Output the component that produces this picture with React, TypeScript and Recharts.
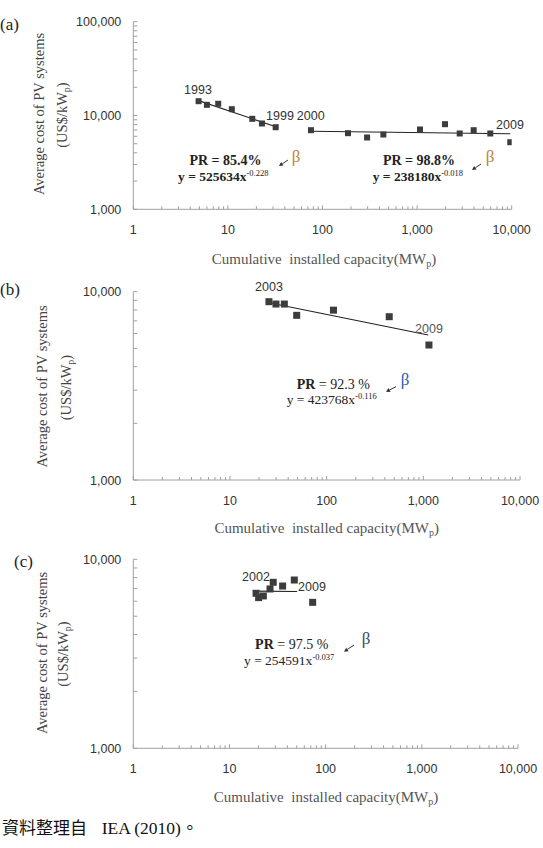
import React from 'react';
import { ScatterChart, Scatter, XAxis, YAxis } from 'recharts';

// (a) 1993-2009
const yearsA = [1993, 1994, 1995, 1996, 1997, 1998, 1999, 2000, 2001, 2002, 2003, 2004, 2005, 2006, 2007, 2008, 2009];
const capA = [4.9, 6.0, 7.9, 11.0, 18.1, 22.9, 32.0, 75.5, 186, 296, 440, 1073, 1973, 2820, 3962, 5940, 9660];
const costA = [14200, 13000, 13330, 11670, 9220, 8220, 7500, 6970, 6480, 5830, 6270, 7090, 8080, 6430, 6970, 6430, 5190];
const fitA1X = [4.9, 32];
const fitA1Y = [14400, 7600];
const fitA2X = [75.5, 9660];
const fitA2Y = [6800, 6380];

// (b) 2003-2009
const yearsB = [2003, 2004, 2005, 2006, 2007, 2008, 2009];
const capB = [25.3, 29.9, 36.5, 49, 117.6, 444, 1143];
const costB = [8850, 8600, 8600, 7490, 7980, 7365, 5210];
const fitBX = [25.3, 1123];
const fitBY = [8740, 5890];

// (c) 2002-2009
const yearsC = [2002, 2003, 2004, 2005, 2006, 2007, 2008, 2009];
const capC = [18.9, 20.1, 22.5, 26.4, 28.5, 35.7, 47.2, 73.3];
const costC = [6610, 6270, 6400, 6965, 7555, 7220, 7770, 5920];
const fitCX = [18.5, 50.5];
const fitCY = [6790, 6760];

const xTicks = [1, 2, 3, 4, 5, 6, 7, 8, 9, 10, 20, 30, 40, 50, 60, 70, 80, 90, 100, 200, 300, 400, 500, 600, 700, 800, 900, 1000, 2000, 3000, 4000, 5000, 6000, 7000, 8000, 9000, 10000];
const yTicksA = [1000, 2000, 3000, 4000, 5000, 6000, 7000, 8000, 9000, 10000, 20000, 30000, 40000, 50000, 60000, 70000, 80000, 90000, 100000];
const yTicksBC = [1000, 2000, 3000, 4000, 5000, 6000, 7000, 8000, 9000, 10000];

const AXIS = '#a0a0a0';
const SERIF = "'Liberation Serif', 'Times New Roman', serif";
const SANS = "'Liberation Sans', Arial, sans-serif";
const CJK = "'Noto Sans CJK TC', sans-serif";

const toPoints = (xs: number[], ys: number[]) => xs.map((x, i) => ({ x, y: ys[i] }));
const isDecade = (v: number) => Math.abs(Math.log10(v) - Math.round(Math.log10(v))) < 1e-9;
const fmt = (v: number) => String(v).replace(/\B(?=(\d{3})+(?!\d))/g, ',');

const XTick = (props: any) => {
  const { x, y, payload } = props;
  const major = isDecade(payload.value);
  return (
    <g>
      <line x1={x} y1={y} x2={x} y2={y - (major ? 4 : 3)} stroke={AXIS} />
      {major && (
        <text x={x} y={y + 25} textAnchor="middle" fontSize={12.5} fill="#333" fontFamily={SANS}>
          {fmt(payload.value)}
        </text>
      )}
    </g>
  );
};

const YTick = (props: any) => {
  const { x, y, payload } = props;
  const major = isDecade(payload.value);
  return (
    <g>
      <line x1={x} y1={y} x2={x + 4} y2={y} stroke={AXIS} />
      {major && (
        <text x={x - 12} y={y + 4.5} textAnchor="end" fontSize={12.5} fill="#333" fontFamily={SANS}>
          {fmt(payload.value)}
        </text>
      )}
    </g>
  );
};

const square = (size: number) => (p: any) => (
  <rect x={p.cx - size / 2} y={p.cy - size / 2} width={size} height={size} fill="#3c3c3c" />
);

interface PanelProps {
  top: number;
  marginTop: number;
  marginRight: number;
  xAxisHeight: number;
  yDomain: [number, number];
  yTicks: number[];
  points: { x: number; y: number }[];
  fits: { x: number; y: number }[][];
  size: number;
}

const Panel: React.FC<PanelProps> = ({ top, marginTop, marginRight, xAxisHeight, yDomain, yTicks, points, fits, size }) => (
  <div style={{ position: 'absolute', left: 0, top }}>
    <ScatterChart width={543} height={280} margin={{ top: marginTop, right: marginRight, bottom: 0, left: 0 }}>
      <XAxis
        type="number"
        dataKey="x"
        scale="log"
        domain={[1, 10000]}
        ticks={xTicks}
        interval={0}
        allowDataOverflow
        tickSize={0}
        tickMargin={0}
        tickLine={false}
        tick={(p: any) => <XTick {...p} />}
        height={xAxisHeight}
        stroke={AXIS}
      />
      <YAxis
        type="number"
        dataKey="y"
        scale="log"
        domain={yDomain}
        ticks={yTicks}
        interval={0}
        allowDataOverflow
        tickSize={0}
        tickMargin={0}
        tickLine={false}
        tick={(p: any) => <YTick {...p} />}
        width={133.3}
        stroke={AXIS}
      />
      {fits.map((f, i) => (
        <Scatter key={i} data={f} line={{ stroke: '#222', strokeWidth: 1.1 }} shape={() => <g />} isAnimationActive={false} />
      ))}
      <Scatter data={points} shape={square(size)} isAnimationActive={false} />
    </ScatterChart>
  </div>
);

const Arrow = ({ x1, y1, x2, y2 }: { x1: number; y1: number; x2: number; y2: number }) => {
  const a = Math.atan2(y2 - y1, x2 - x1);
  const l = 4;
  const w = 2.2;
  const bx = x2 - l * Math.cos(a);
  const by = y2 - l * Math.sin(a);
  const pts = [
    [x2, y2],
    [bx + w * Math.sin(a), by - w * Math.cos(a)],
    [bx - w * Math.sin(a), by + w * Math.cos(a)],
  ].map((q) => q.join(',')).join(' ');
  return (
    <g>
      <line x1={x1} y1={y1} x2={bx} y2={by} stroke="#333" strokeWidth={1} />
      <polygon points={pts} fill="#333" />
    </g>
  );
};

const YTitle = ({ x1, x2, cy }: { x1: number; x2: number; cy: number }) => (
  <g fontFamily={SERIF} fontSize={14.5} fill="#444">
    <text transform={`translate(${x1},${cy}) rotate(-90)`} textAnchor="middle" dy="0.35em">
      Average cost of PV systems
    </text>
    <text transform={`translate(${x2},${cy + 1}) rotate(-90)`} textAnchor="middle" dy="0.35em">
      (US$/kW<tspan fontSize={10} dy={3}>p</tspan>
      <tspan dy={-3}>)</tspan>
    </text>
  </g>
);

const XTitle = ({ cx, y }: { cx: number; y: number }) => (
  <text x={cx} y={y} textAnchor="middle" fontFamily={SERIF} fontSize={15} fill="#555" style={{ whiteSpace: 'pre' }}>
    {'Cumulative  installed capacity(MW'}
    <tspan fontSize={10} dy={3}>p</tspan>
    <tspan dy={-3}>)</tspan>
  </text>
);

const Equation = ({ x, y, coef, exp, bold }: { x: number; y: number; coef: string; exp: string; bold?: boolean }) => (
  <text x={x} y={y} fontFamily={SERIF} fontSize={13.5} fill="#222" fontWeight={bold ? 'bold' : 'normal'}>
    {`y = ${coef}x`}
    <tspan fontSize={8.5} dy={-5} fontWeight="normal">{exp}</tspan>
  </text>
);

const PR = ({ cx, y, value, bold }: { cx: number; y: number; value: string; bold?: boolean }) => (
  <text x={cx} y={y} textAnchor="middle" fontFamily={SERIF} fontSize={14} fill="#222" fontWeight={bold ? 'bold' : 'normal'}>
    <tspan fontWeight="bold">PR</tspan>
    {` = ${value}`}
  </text>
);

const Year = ({ cx, y, label, color = '#333' }: { cx: number; y: number; label: number; color?: string }) => (
  <text x={cx} y={y} textAnchor="middle" fontFamily={SANS} fontSize={12.5} fill={color}>
    {label}
  </text>
);

const Beta = ({ cx, y, color }: { cx: number; y: number; color: string }) => (
  <text x={cx} y={y} textAnchor="middle" fontFamily={SERIF} fontSize={17} fill={color}>
    β
  </text>
);

export default function App() {
  return (
    <div style={{ position: 'absolute', left: 0, top: 0, width: 543, height: 848, background: '#fff' }}>
      <Panel
        top={0}
        marginTop={21.7}
        marginRight={31.3}
        xAxisHeight={70.7}
        yDomain={[1000, 100000]}
        yTicks={yTicksA}
        points={toPoints(capA, costA)}
        fits={[toPoints(fitA1X, fitA1Y), toPoints(fitA2X, fitA2Y)]}
        size={6}
      />
      <Panel
        top={270}
        marginTop={21.7}
        marginRight={23}
        xAxisHeight={70}
        yDomain={[1000, 10000]}
        yTicks={yTicksBC}
        points={toPoints(capB, costB)}
        fits={[toPoints(fitBX, fitBY)]}
        size={7}
      />
      <Panel
        top={540}
        marginTop={19.3}
        marginRight={25}
        xAxisHeight={71.7}
        yDomain={[1000, 10000]}
        yTicks={yTicksBC}
        points={toPoints(capC, costC)}
        fits={[toPoints(fitCX, fitCY)]}
        size={7}
      />
      <svg width={543} height={848} style={{ position: 'absolute', left: 0, top: 0, pointerEvents: 'none' }}>
        {/* panel letters */}
        <g fontFamily={SERIF} fontSize={17} fill="#222">
          <text x={0} y={30}>(a)</text>
          <text x={0} y={295}>(b)</text>
          <text x={14} y={567}>(c)</text>
        </g>

        <YTitle x1={39} x2={62} cy={114} />
        <YTitle x1={42} x2={66} cy={386.5} />
        <YTitle x1={42} x2={63} cy={653} />

        <XTitle cx={324} y={264} />
        <XTitle cx={326.7} y={533} />
        <XTitle cx={326} y={802} />

        {/* (a) */}
        <Year cx={198} y={94} label={yearsA[0]} />
        <Year cx={280} y={120} label={yearsA[6]} />
        <Year cx={310.7} y={120} label={yearsA[7]} />
        <Year cx={510} y={129} label={yearsA[16]} />
        <PR cx={225.5} y={165} value="85.4%" bold />
        <Equation x={178} y={181} coef="525634" exp="-0.228" bold />
        <Arrow x1={288} y1={160} x2={279} y2={166} />
        <Beta cx={296} y={162} color="#c0843c" />
        <PR cx={419} y={165} value="98.8%" bold />
        <Equation x={372.7} y={181} coef="238180" exp="-0.018" bold />
        <Arrow x1={481} y1={164} x2={472} y2={170} />
        <Beta cx={490} y={162} color="#b8843c" />

        {/* (b) */}
        <Year cx={269} y={291} label={yearsB[0]} />
        <Year cx={429} y={333} label={yearsB[6]} color="#555" />
        <PR cx={333.3} y={389} value="92.3 %" />
        <Equation x={286.7} y={404} coef="423768" exp="-0.116" />
        <Arrow x1={396} y1={386.7} x2={386} y2={391.7} />
        <Beta cx={405} y={385} color="#1f5fa8" />

        {/* (c) */}
        <Year cx={256} y={581} label={yearsC[0]} />
        <Year cx={312} y={591} label={yearsC[7]} />
        <PR cx={291.7} y={649} value="97.5 %" />
        <Equation x={244} y={665} coef="254591" exp="-0.037" />
        <Arrow x1={354} y1={645} x2={344} y2={651.7} />
        <Beta cx={366} y={644} color="#3a4a70" />

        {/* source note */}
        <text x={2} y={834} fontFamily={CJK} fontSize={17} fill="#111">
          資料整理自
        </text>
        <text x={101.7} y={834} fontFamily={SERIF} fontSize={17.5} fill="#111">
          IEA (2010)
          <tspan fontFamily={CJK}>。</tspan>
        </text>
      </svg>
    </div>
  );
}
